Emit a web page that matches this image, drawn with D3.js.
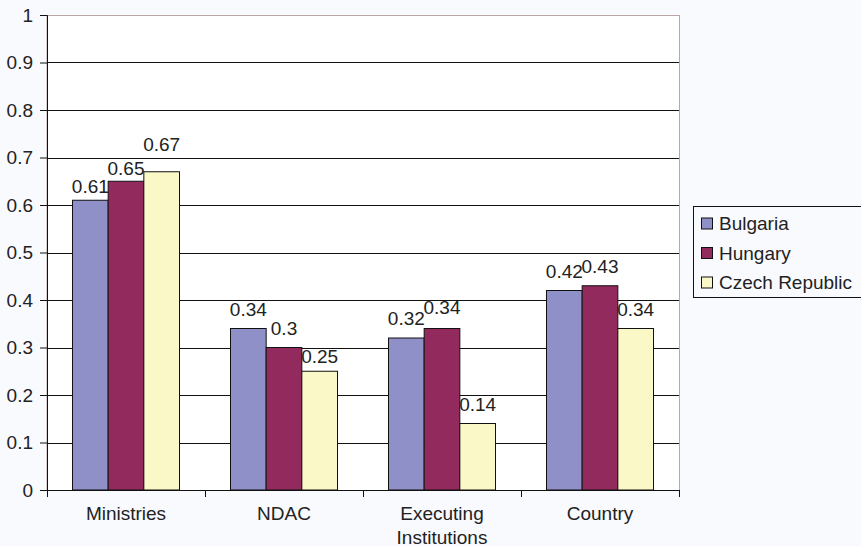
<!DOCTYPE html>
<html><head><meta charset="utf-8">
<script src="https://cdn.jsdelivr.net/npm/d3@7"></script>
<style>body{margin:0;background:#f9fafe;}svg{display:block;font-family:"Liberation Sans",Arial,sans-serif;}</style>
</head><body>
<svg id="c" width="861" height="546"></svg>
<script>
const categories = [["Ministries"],["NDAC"],["Executing","Institutions"],["Country"]];
const series = ["Bulgaria","Hungary","Czech Republic"];
const bulgaria = [0.61,0.34,0.32,0.42];
const hungary = [0.65,0.3,0.34,0.43];
const czech = [0.67,0.25,0.14,0.34];
const yTicks = [0,0.1,0.2,0.3,0.4,0.5,0.6,0.7,0.8,0.9,1];
const yTickLabels = ["0","0.1","0.2","0.3","0.4","0.5","0.6","0.7","0.8","0.9","1"];
const colors = ["#9090c8","#932a5e","#fbf8c8"];
const values = [bulgaria,hungary,czech];
// layout: gap (px) between bar top and value-label baseline, per category and series
const labelGap = [[7,6.5,20.5],[12.5,13,8],[13,14.5,13],[12.5,12.75,13]];

const svg = d3.select("#c");
const L=47,R=679,T=15,B=490;
const FS = 19;
const x = d3.scaleBand().domain(d3.range(categories.length)).range([L,R]).paddingInner(0).paddingOuter(0);
const xs = d3.scaleBand().domain(d3.range(series.length)).range([25.5, x.bandwidth()-25.5]).padding(0);
const y = d3.scaleLinear().domain([0,1]).range([B,T]);

svg.append("rect").attr("x",L).attr("y",T+0.5).attr("width",R-L+0.5).attr("height",B-T).attr("fill","#ffffff").attr("stroke","#b9a8a4").attr("stroke-width",1);

// gridlines
svg.append("g").selectAll("line").data(yTicks.slice(1,-1)).join("line")
  .attr("x1",L).attr("x2",R).attr("y1",d=>Math.round(y(d))+0.5).attr("y2",d=>Math.round(y(d))+0.5)
  .attr("stroke","#111").attr("stroke-width",1);

// bars
const g = svg.append("g");
categories.forEach((c,ci)=>{
  series.forEach((s,si)=>{
    const v = values[si][ci];
    const bx = x(ci)+xs(si);
    g.append("rect").attr("x",bx).attr("y",y(v)).attr("width",xs.bandwidth()).attr("height",y(0)-y(v))
      .attr("fill",colors[si]).attr("stroke","#111").attr("stroke-width",1);
    g.append("text").attr("x",bx+xs.bandwidth()/2).attr("y",y(v)-labelGap[ci][si]).attr("text-anchor","middle")
      .attr("font-size",FS).attr("fill","#222").text(String(v));
  });
});

// y axis
const yAxis = d3.axisLeft(y).tickValues(yTicks).tickFormat((d,i)=>yTickLabels[i]).tickSize(7).tickPadding(7);
const ya = svg.append("g").attr("transform",`translate(${L},0)`).call(yAxis);
ya.select(".domain").attr("stroke","#111");
ya.selectAll(".tick line").attr("stroke","#111");
ya.selectAll("text").attr("font-size",FS).attr("fill","#222").attr("font-family","Liberation Sans, Arial, sans-serif");

// x axis
const xa = svg.append("g").attr("transform",`translate(0,${B})`);
xa.append("line").attr("x1",L).attr("x2",R).attr("y1",0.5).attr("y2",0.5).attr("stroke","#111");
d3.range(categories.length+1).forEach(i=>{
  const px = i<categories.length? x(i): R;
  xa.append("line").attr("x1",px+0.5).attr("x2",px+0.5).attr("y1",0).attr("y2",7).attr("stroke","#111");
});
categories.forEach((c,ci)=>{
  const cx = x(ci)+x.bandwidth()/2;
  const t = xa.append("text").attr("x",cx).attr("y",29.5).attr("text-anchor","middle").attr("font-size",FS).attr("fill","#222");
  c.forEach((line,li)=>t.append("tspan").attr("x",cx).attr("dy",li===0?0:24).text(line));
});

// legend
const lg = svg.append("g");
lg.append("rect").attr("x",693.5).attr("y",206.5).attr("width",172).attr("height",91).attr("fill","#f9fafe").attr("stroke","#111");
series.forEach((s,i)=>{
  const yy = 223.5+i*29.5;
  lg.append("rect").attr("x",701.5).attr("y",yy-5.5).attr("width",11).attr("height",11).attr("fill",colors[i]).attr("stroke","#111");
  lg.append("text").attr("x",719).attr("y",yy+6.5).attr("font-size",FS).attr("fill","#222").text(s);
});
</script>
</body></html>
